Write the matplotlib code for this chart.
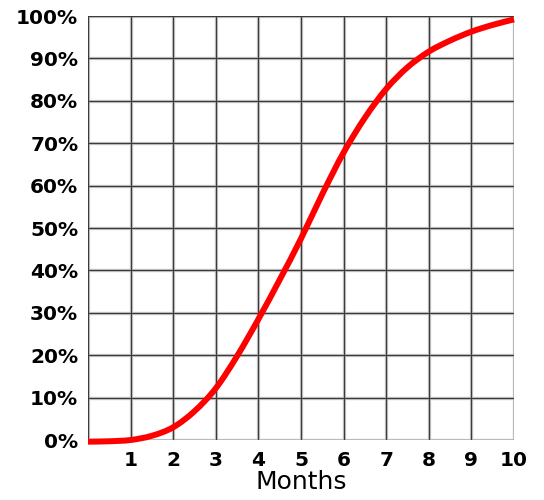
import numpy as np
import matplotlib
matplotlib.use("Agg")
import matplotlib.pyplot as plt
from matplotlib.path import Path
from matplotlib.patches import PathPatch
from matplotlib.ticker import FuncFormatter

# Cumulative adoption (%) by month
months = [0, 0.5, 1, 1.5, 2, 2.5, 3, 3.5, 4, 4.5, 5, 5.5, 6, 6.5, 7, 7.5, 8, 8.5, 9, 9.5, 10]
percent = [-0.4, -0.3, 0, 1, 3, 6.8, 12.2, 19.8, 28.5, 37.8, 47.5, 58, 67.8, 76,
           82.8, 87.9, 91.6, 94.2, 96.3, 97.9, 99.2]

x_ticks = [1, 2, 3, 4, 5, 6, 7, 8, 9, 10]
y_ticks = [0, 10, 20, 30, 40, 50, 60, 70, 80, 90, 100]


def smooth_path(xs, ys):
    """Catmull-Rom curve through the points, expressed as cubic Bezier segments."""
    pts = np.column_stack([xs, ys]).astype(float)
    ext = np.vstack([2 * pts[0] - pts[1], pts, 2 * pts[-1] - pts[-2]])
    verts = [pts[0]]
    codes = [Path.MOVETO]
    for i in range(1, len(ext) - 2):
        p0, p1, p2, p3 = ext[i - 1], ext[i], ext[i + 1], ext[i + 2]
        verts += [p1 + (p2 - p0) / 6, p2 - (p3 - p1) / 6, p2]
        codes += [Path.CURVE4] * 3
    return Path(verts, codes)


fig = plt.figure(figsize=(5.44, 5.00), dpi=100)
ax = fig.add_axes([88 / 544, 60 / 500, (514 - 88) / 544, (440 - 16) / 500])

ax.set_xlim(0, 10)
ax.set_ylim(0, 100)

halo = "#cdcdcd"
core = "#3a3a3a"
for v in range(0, 11):
    ax.axvline(v, color=halo, lw=2.4, zorder=1)
    ax.axvline(v, color=core, lw=0.9, zorder=1.1)
for v in y_ticks:
    ax.axhline(v, color=halo, lw=2.4, zorder=1)
    ax.axhline(v, color=core, lw=0.9, zorder=1.1)

for s in ax.spines.values():
    s.set_visible(False)

curve = PathPatch(smooth_path(months, percent), facecolor="none", edgecolor="#ff0000",
                  lw=4.3, capstyle="butt", joinstyle="round", zorder=3,
                  transform=ax.transData, clip_on=False)
ax.add_patch(curve)

ax.set_xticks(x_ticks)
ax.set_yticks(y_ticks)
ax.yaxis.set_major_formatter(FuncFormatter(lambda v, p: f"{int(v)}%"))
ax.tick_params(length=0, labelsize=14.5, pad=7)
ax.tick_params(axis="x", pad=8)
for lab in ax.get_xticklabels() + ax.get_yticklabels():
    lab.set_fontweight("bold")
ax.set_xlabel("Months", fontsize=18, labelpad=0)

fig.savefig("out.png", dpi=100)
